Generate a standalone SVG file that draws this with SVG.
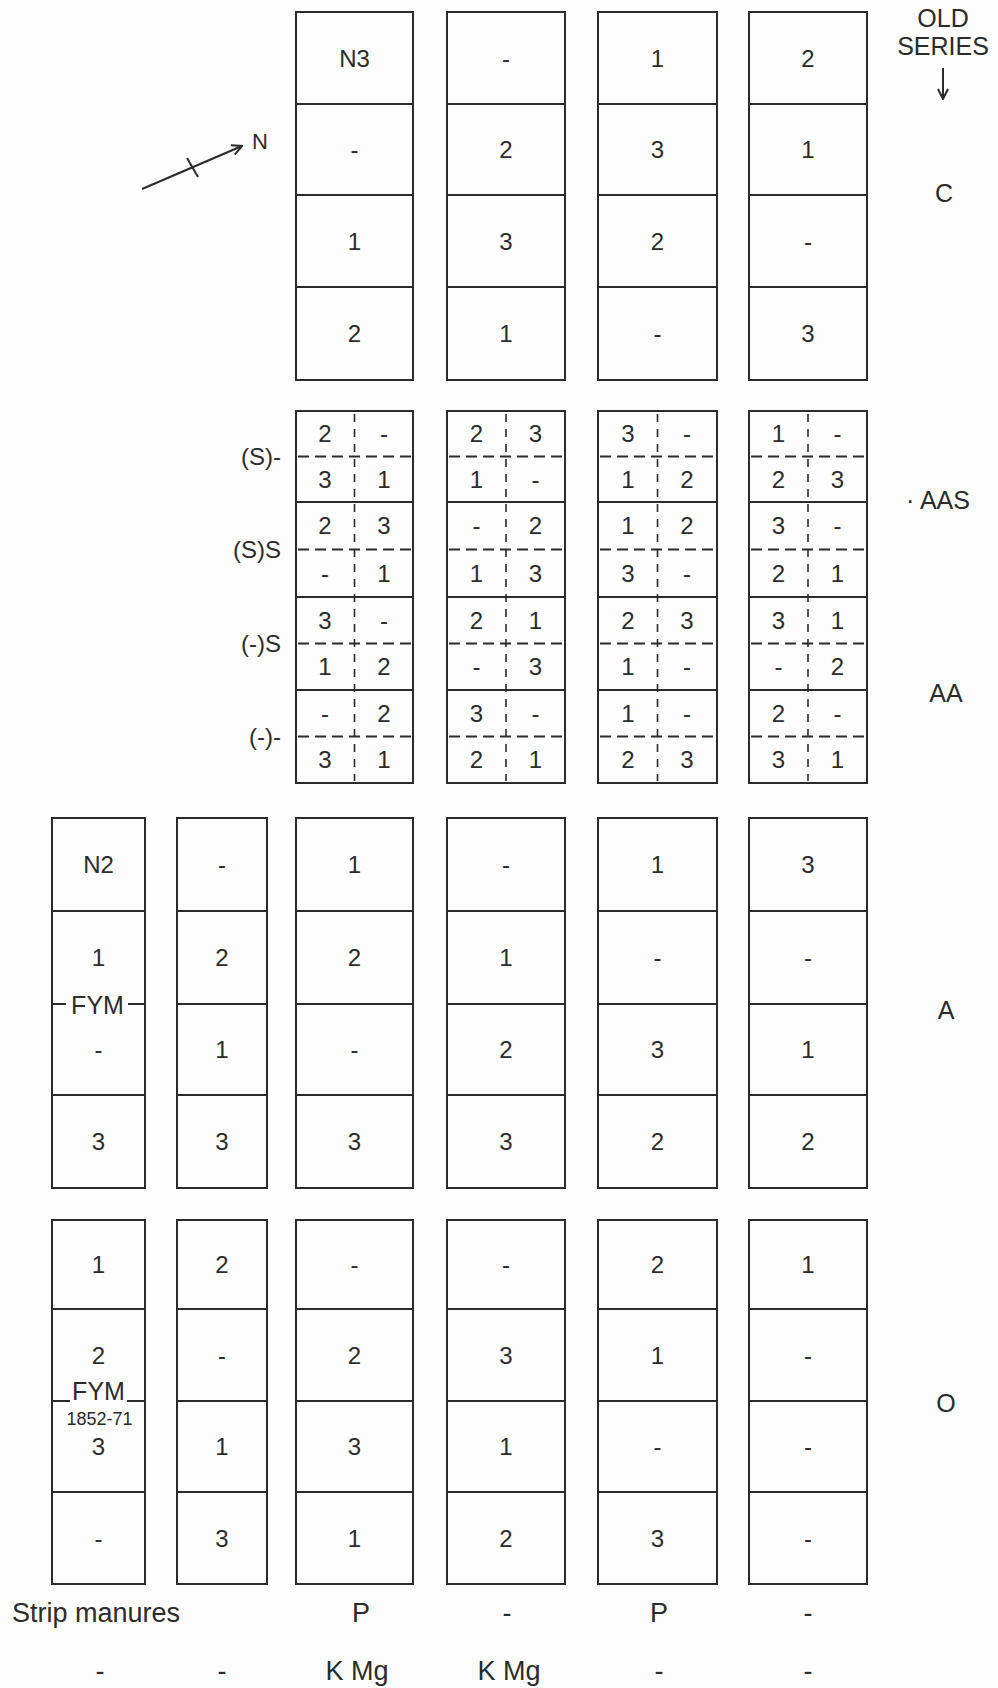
<svg xmlns="http://www.w3.org/2000/svg" width="998" height="1688" viewBox="0 0 998 1688">
<style>
.bx{fill:none;stroke:#2b2b2b;stroke-width:2}
.ln{stroke:#2b2b2b;stroke-width:2;fill:none}
.dh{stroke:#2b2b2b;stroke-width:2;stroke-dasharray:11 6}
.dv{stroke:#2b2b2b;stroke-width:1.6;stroke-dasharray:8 7}
text{font-family:"Liberation Sans",Arial,sans-serif;fill:#2b2b2b}
.t{font-size:24px;text-anchor:middle}
.l{font-size:25px;text-anchor:middle}
.r{font-size:24px;text-anchor:end}
.s{font-size:18px;text-anchor:middle}
.b{font-size:27px}
</style>
<defs>
<marker id="ah" viewBox="0 0 12 12" refX="11" refY="6" markerWidth="12" markerHeight="12" markerUnits="userSpaceOnUse" orient="auto">
<path d="M1,1 L11,6 L1,11" fill="none" stroke="#2b2b2b" stroke-width="2"/>
</marker>
</defs>
<rect width="998" height="1688" fill="#fdfdfd"/>

<g id="connectors">
<line class="ln" x1="142" y1="189" x2="242" y2="146" marker-end="url(#ah)"/>
<line class="ln" x1="187" y1="158" x2="198" y2="177"/>
<line class="ln" x1="943" y1="68" x2="943" y2="99" marker-end="url(#ah)"/>
</g>

<g id="north-label"><text x="252" y="149" style="font-size:22px">N</text></g>
<g id="old-series-label">
<text class="l" x="943" y="27">OLD</text>
<text class="l" x="943" y="55">SERIES</text>
</g>
<g id="series-C"><text class="l" x="944" y="202">C</text></g>
<g id="series-AAS"><text x="906" y="509" style="font-size:25px">· AAS</text></g>
<g id="series-AA"><text class="l" x="946" y="702">AA</text></g>
<g id="series-A"><text class="l" x="946" y="1019">A</text></g>
<g id="series-O"><text class="l" x="946" y="1412">O</text></g>

<!-- C block -->
<g id="C-3">
<rect class="bx" x="296" y="12" width="117" height="368"/>
<line class="ln" x1="296" y1="104" x2="413" y2="104"/><line class="ln" x1="296" y1="195" x2="413" y2="195"/><line class="ln" x1="296" y1="287" x2="413" y2="287"/>
<text class="t" x="354.5" y="66.5">N3</text><text class="t" x="354.5" y="158">-</text><text class="t" x="354.5" y="249.5">1</text><text class="t" x="354.5" y="342">2</text>
</g>
<g id="C-4">
<rect class="bx" x="447" y="12" width="118" height="368"/>
<line class="ln" x1="447" y1="104" x2="565" y2="104"/><line class="ln" x1="447" y1="195" x2="565" y2="195"/><line class="ln" x1="447" y1="287" x2="565" y2="287"/>
<text class="t" x="506" y="66.5">-</text><text class="t" x="506" y="158">2</text><text class="t" x="506" y="249.5">3</text><text class="t" x="506" y="342">1</text>
</g>
<g id="C-5">
<rect class="bx" x="598" y="12" width="119" height="368"/>
<line class="ln" x1="598" y1="104" x2="717" y2="104"/><line class="ln" x1="598" y1="195" x2="717" y2="195"/><line class="ln" x1="598" y1="287" x2="717" y2="287"/>
<text class="t" x="657.5" y="66.5">1</text><text class="t" x="657.5" y="158">3</text><text class="t" x="657.5" y="249.5">2</text><text class="t" x="657.5" y="342">-</text>
</g>
<g id="C-6">
<rect class="bx" x="749" y="12" width="118" height="368"/>
<line class="ln" x1="749" y1="104" x2="867" y2="104"/><line class="ln" x1="749" y1="195" x2="867" y2="195"/><line class="ln" x1="749" y1="287" x2="867" y2="287"/>
<text class="t" x="808" y="66.5">2</text><text class="t" x="808" y="158">1</text><text class="t" x="808" y="249.5">-</text><text class="t" x="808" y="342">3</text>
</g>

<!-- AAS / AA row labels -->
<g id="row-labels">
<text class="r" x="281" y="465">(S)-</text>
<text class="r" x="281" y="558">(S)S</text>
<text class="r" x="281" y="652">(-)S</text>
<text class="r" x="281" y="745">(-)-</text>
</g>

<!-- AA block -->
<g id="AA-3">
<rect class="bx" x="296" y="411" width="117" height="372"/>
<line class="ln" x1="296" y1="502" x2="413" y2="502"/><line class="ln" x1="296" y1="597" x2="413" y2="597"/><line class="ln" x1="296" y1="690" x2="413" y2="690"/>
<line class="dv" x1="354.5" y1="414" x2="354.5" y2="781"/>
<line class="dh" x1="298" y1="456.5" x2="411" y2="456.5"/><line class="dh" x1="298" y1="549.5" x2="411" y2="549.5"/><line class="dh" x1="298" y1="643.5" x2="411" y2="643.5"/><line class="dh" x1="298" y1="736.5" x2="411" y2="736.5"/>
<text class="t" x="325" y="442">2</text><text class="t" x="384" y="442">-</text><text class="t" x="325" y="488">3</text><text class="t" x="384" y="488">1</text>
<text class="t" x="325" y="534">2</text><text class="t" x="384" y="534">3</text><text class="t" x="325" y="582">-</text><text class="t" x="384" y="582">1</text>
<text class="t" x="325" y="629">3</text><text class="t" x="384" y="629">-</text><text class="t" x="325" y="675">1</text><text class="t" x="384" y="675">2</text>
<text class="t" x="325" y="722">-</text><text class="t" x="384" y="722">2</text><text class="t" x="325" y="768">3</text><text class="t" x="384" y="768">1</text>
</g>
<g id="AA-4">
<rect class="bx" x="447" y="411" width="118" height="372"/>
<line class="ln" x1="447" y1="502" x2="565" y2="502"/><line class="ln" x1="447" y1="597" x2="565" y2="597"/><line class="ln" x1="447" y1="690" x2="565" y2="690"/>
<line class="dv" x1="506" y1="414" x2="506" y2="781"/>
<line class="dh" x1="449" y1="456.5" x2="563" y2="456.5"/><line class="dh" x1="449" y1="549.5" x2="563" y2="549.5"/><line class="dh" x1="449" y1="643.5" x2="563" y2="643.5"/><line class="dh" x1="449" y1="736.5" x2="563" y2="736.5"/>
<text class="t" x="476.5" y="442">2</text><text class="t" x="535.5" y="442">3</text><text class="t" x="476.5" y="488">1</text><text class="t" x="535.5" y="488">-</text>
<text class="t" x="476.5" y="534">-</text><text class="t" x="535.5" y="534">2</text><text class="t" x="476.5" y="582">1</text><text class="t" x="535.5" y="582">3</text>
<text class="t" x="476.5" y="629">2</text><text class="t" x="535.5" y="629">1</text><text class="t" x="476.5" y="675">-</text><text class="t" x="535.5" y="675">3</text>
<text class="t" x="476.5" y="722">3</text><text class="t" x="535.5" y="722">-</text><text class="t" x="476.5" y="768">2</text><text class="t" x="535.5" y="768">1</text>
</g>
<g id="AA-5">
<rect class="bx" x="598" y="411" width="119" height="372"/>
<line class="ln" x1="598" y1="502" x2="717" y2="502"/><line class="ln" x1="598" y1="597" x2="717" y2="597"/><line class="ln" x1="598" y1="690" x2="717" y2="690"/>
<line class="dv" x1="657.5" y1="414" x2="657.5" y2="781"/>
<line class="dh" x1="600" y1="456.5" x2="715" y2="456.5"/><line class="dh" x1="600" y1="549.5" x2="715" y2="549.5"/><line class="dh" x1="600" y1="643.5" x2="715" y2="643.5"/><line class="dh" x1="600" y1="736.5" x2="715" y2="736.5"/>
<text class="t" x="628" y="442">3</text><text class="t" x="687" y="442">-</text><text class="t" x="628" y="488">1</text><text class="t" x="687" y="488">2</text>
<text class="t" x="628" y="534">1</text><text class="t" x="687" y="534">2</text><text class="t" x="628" y="582">3</text><text class="t" x="687" y="582">-</text>
<text class="t" x="628" y="629">2</text><text class="t" x="687" y="629">3</text><text class="t" x="628" y="675">1</text><text class="t" x="687" y="675">-</text>
<text class="t" x="628" y="722">1</text><text class="t" x="687" y="722">-</text><text class="t" x="628" y="768">2</text><text class="t" x="687" y="768">3</text>
</g>
<g id="AA-6">
<rect class="bx" x="749" y="411" width="118" height="372"/>
<line class="ln" x1="749" y1="502" x2="867" y2="502"/><line class="ln" x1="749" y1="597" x2="867" y2="597"/><line class="ln" x1="749" y1="690" x2="867" y2="690"/>
<line class="dv" x1="808" y1="414" x2="808" y2="781"/>
<line class="dh" x1="751" y1="456.5" x2="865" y2="456.5"/><line class="dh" x1="751" y1="549.5" x2="865" y2="549.5"/><line class="dh" x1="751" y1="643.5" x2="865" y2="643.5"/><line class="dh" x1="751" y1="736.5" x2="865" y2="736.5"/>
<text class="t" x="778.5" y="442">1</text><text class="t" x="837.5" y="442">-</text><text class="t" x="778.5" y="488">2</text><text class="t" x="837.5" y="488">3</text>
<text class="t" x="778.5" y="534">3</text><text class="t" x="837.5" y="534">-</text><text class="t" x="778.5" y="582">2</text><text class="t" x="837.5" y="582">1</text>
<text class="t" x="778.5" y="629">3</text><text class="t" x="837.5" y="629">1</text><text class="t" x="778.5" y="675">-</text><text class="t" x="837.5" y="675">2</text>
<text class="t" x="778.5" y="722">2</text><text class="t" x="837.5" y="722">-</text><text class="t" x="778.5" y="768">3</text><text class="t" x="837.5" y="768">1</text>
</g>

<!-- A block -->
<g id="A-1">
<rect class="bx" x="52" y="818" width="93" height="370"/>
<line class="ln" x1="52" y1="911" x2="145" y2="911"/><line class="ln" x1="52" y1="1004" x2="66" y2="1004"/><line class="ln" x1="128" y1="1004" x2="145" y2="1004"/><line class="ln" x1="52" y1="1095" x2="145" y2="1095"/>
<text class="t" x="98.5" y="873">N2</text><text class="t" x="98.5" y="966">1</text><text class="t" x="98.5" y="1058">-</text><text class="t" x="98.5" y="1150">3</text>
<text class="l" x="97.5" y="1014">FYM</text>
</g>
<g id="A-2">
<rect class="bx" x="177" y="818" width="90" height="370"/>
<line class="ln" x1="177" y1="911" x2="267" y2="911"/><line class="ln" x1="177" y1="1004" x2="267" y2="1004"/><line class="ln" x1="177" y1="1095" x2="267" y2="1095"/>
<text class="t" x="222" y="873">-</text><text class="t" x="222" y="966">2</text><text class="t" x="222" y="1058">1</text><text class="t" x="222" y="1150">3</text>
</g>
<g id="A-3">
<rect class="bx" x="296" y="818" width="117" height="370"/>
<line class="ln" x1="296" y1="911" x2="413" y2="911"/><line class="ln" x1="296" y1="1004" x2="413" y2="1004"/><line class="ln" x1="296" y1="1095" x2="413" y2="1095"/>
<text class="t" x="354.5" y="873">1</text><text class="t" x="354.5" y="966">2</text><text class="t" x="354.5" y="1058">-</text><text class="t" x="354.5" y="1150">3</text>
</g>
<g id="A-4">
<rect class="bx" x="447" y="818" width="118" height="370"/>
<line class="ln" x1="447" y1="911" x2="565" y2="911"/><line class="ln" x1="447" y1="1004" x2="565" y2="1004"/><line class="ln" x1="447" y1="1095" x2="565" y2="1095"/>
<text class="t" x="506" y="873">-</text><text class="t" x="506" y="966">1</text><text class="t" x="506" y="1058">2</text><text class="t" x="506" y="1150">3</text>
</g>
<g id="A-5">
<rect class="bx" x="598" y="818" width="119" height="370"/>
<line class="ln" x1="598" y1="911" x2="717" y2="911"/><line class="ln" x1="598" y1="1004" x2="717" y2="1004"/><line class="ln" x1="598" y1="1095" x2="717" y2="1095"/>
<text class="t" x="657.5" y="873">1</text><text class="t" x="657.5" y="966">-</text><text class="t" x="657.5" y="1058">3</text><text class="t" x="657.5" y="1150">2</text>
</g>
<g id="A-6">
<rect class="bx" x="749" y="818" width="118" height="370"/>
<line class="ln" x1="749" y1="911" x2="867" y2="911"/><line class="ln" x1="749" y1="1004" x2="867" y2="1004"/><line class="ln" x1="749" y1="1095" x2="867" y2="1095"/>
<text class="t" x="808" y="873">3</text><text class="t" x="808" y="966">-</text><text class="t" x="808" y="1058">1</text><text class="t" x="808" y="1150">2</text>
</g>

<!-- O block -->
<g id="O-1">
<rect class="bx" x="52" y="1220" width="93" height="364"/>
<line class="ln" x1="52" y1="1309" x2="145" y2="1309"/><line class="ln" x1="52" y1="1401" x2="70" y2="1401"/><line class="ln" x1="127" y1="1401" x2="145" y2="1401"/><line class="ln" x1="52" y1="1492" x2="145" y2="1492"/>
<text class="t" x="98.5" y="1273">1</text><text class="t" x="98.5" y="1364">2</text><text class="t" x="98.5" y="1455">3</text><text class="t" x="98.5" y="1547">-</text>
<text class="l" x="98.5" y="1400">FYM</text>
<text class="s" x="99.5" y="1425">1852-71</text>
</g>
<g id="O-2">
<rect class="bx" x="177" y="1220" width="90" height="364"/>
<line class="ln" x1="177" y1="1309" x2="267" y2="1309"/><line class="ln" x1="177" y1="1401" x2="267" y2="1401"/><line class="ln" x1="177" y1="1492" x2="267" y2="1492"/>
<text class="t" x="222" y="1273">2</text><text class="t" x="222" y="1364">-</text><text class="t" x="222" y="1455">1</text><text class="t" x="222" y="1547">3</text>
</g>
<g id="O-3">
<rect class="bx" x="296" y="1220" width="117" height="364"/>
<line class="ln" x1="296" y1="1309" x2="413" y2="1309"/><line class="ln" x1="296" y1="1401" x2="413" y2="1401"/><line class="ln" x1="296" y1="1492" x2="413" y2="1492"/>
<text class="t" x="354.5" y="1273">-</text><text class="t" x="354.5" y="1364">2</text><text class="t" x="354.5" y="1455">3</text><text class="t" x="354.5" y="1547">1</text>
</g>
<g id="O-4">
<rect class="bx" x="447" y="1220" width="118" height="364"/>
<line class="ln" x1="447" y1="1309" x2="565" y2="1309"/><line class="ln" x1="447" y1="1401" x2="565" y2="1401"/><line class="ln" x1="447" y1="1492" x2="565" y2="1492"/>
<text class="t" x="506" y="1273">-</text><text class="t" x="506" y="1364">3</text><text class="t" x="506" y="1455">1</text><text class="t" x="506" y="1547">2</text>
</g>
<g id="O-5">
<rect class="bx" x="598" y="1220" width="119" height="364"/>
<line class="ln" x1="598" y1="1309" x2="717" y2="1309"/><line class="ln" x1="598" y1="1401" x2="717" y2="1401"/><line class="ln" x1="598" y1="1492" x2="717" y2="1492"/>
<text class="t" x="657.5" y="1273">2</text><text class="t" x="657.5" y="1364">1</text><text class="t" x="657.5" y="1455">-</text><text class="t" x="657.5" y="1547">3</text>
</g>
<g id="O-6">
<rect class="bx" x="749" y="1220" width="118" height="364"/>
<line class="ln" x1="749" y1="1309" x2="867" y2="1309"/><line class="ln" x1="749" y1="1401" x2="867" y2="1401"/><line class="ln" x1="749" y1="1492" x2="867" y2="1492"/>
<text class="t" x="808" y="1273">1</text><text class="t" x="808" y="1364">-</text><text class="t" x="808" y="1455">-</text><text class="t" x="808" y="1547">-</text>
</g>

<!-- strip manures -->
<g id="strip-manures">
<text class="b" x="12" y="1622">Strip manures</text>
<text class="b" x="361" y="1622" text-anchor="middle">P</text>
<text class="b" x="507" y="1622" text-anchor="middle">-</text>
<text class="b" x="659" y="1622" text-anchor="middle">P</text>
<text class="b" x="808" y="1622" text-anchor="middle">-</text>
<text class="b" x="100" y="1680" text-anchor="middle">-</text>
<text class="b" x="222" y="1680" text-anchor="middle">-</text>
<text class="b" x="357" y="1680" text-anchor="middle">K Mg</text>
<text class="b" x="509" y="1680" text-anchor="middle">K Mg</text>
<text class="b" x="659" y="1680" text-anchor="middle">-</text>
<text class="b" x="808" y="1680" text-anchor="middle">-</text>
</g>
</svg>
